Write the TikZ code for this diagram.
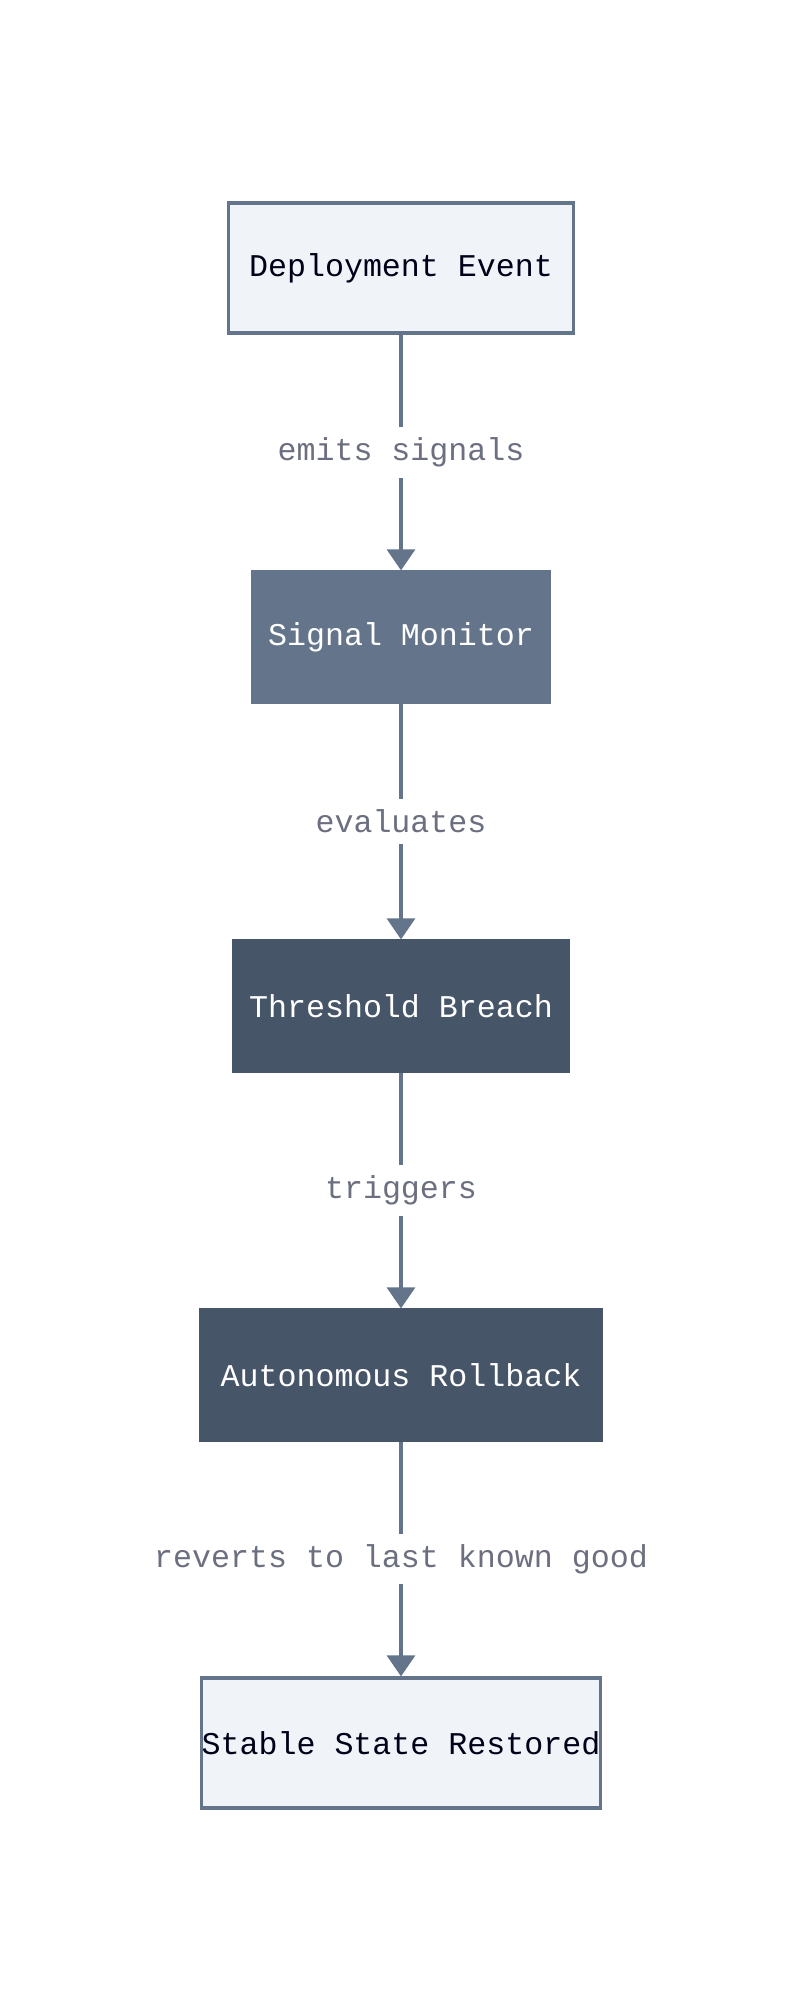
\documentclass[tikz,border=0pt]{standalone}
\usepackage{fontspec}
\setmonofont{Liberation Mono}
\usetikzlibrary{arrows.meta}
\definecolor{edgegrey}{HTML}{64748B}
\definecolor{lightfill}{HTML}{F0F4F8}
\definecolor{darkfill}{HTML}{475569}
\definecolor{labelgrey}{HTML}{6B6F80}
\begin{document}
\begin{tikzpicture}%
        [x=0.01cm, y=-0.01cm,
        box/.style={draw=edgegrey, line width=0.9pt, inner sep=0pt, minimum height=1.3cm,
            font=\ttfamily\fontsize{9}{11}\selectfont},
        light/.style={box, fill=lightfill, text=black!90!blue},
        mid/.style={box, fill=edgegrey, draw=edgegrey, text=white},
        dark/.style={box, fill=darkfill, draw=darkfill, text=white},
        flow/.style={draw=edgegrey, line width=0.9pt, -{Triangle[length=6pt,width=8pt]}},
        lbl/.style={fill=white, text=labelgrey, inner sep=3pt,
            font=\ttfamily\fontsize{9}{11}\selectfont}]

    \useasboundingbox (0,0) rectangle (800,2012);

    %% Nodes
    \node[light, minimum width=3.45cm] (deploy) at (401,268) {Deployment Event};
    \node[mid, minimum width=2.97cm] (monitor) at (401,637) {Signal Monitor};
    \node[dark, minimum width=3.35cm] (breach) at (401,1006) {Threshold Breach};
    \node[dark, minimum width=4.00cm] (rollback) at (401,1375) {Autonomous Rollback};
    \node[light, minimum width=3.93cm] (restored) at (401,1743) {Stable State Restored};

    %% Connectors
    \draw[flow] (deploy) -- node[lbl]{emits signals} (monitor);
    \draw[flow] (monitor) -- node[lbl]{evaluates} (breach);
    \draw[flow] (breach) -- node[lbl]{triggers} (rollback);
    \draw[flow] (rollback) -- node[lbl]{reverts to last known good} (restored);
\end{tikzpicture}
\end{document}
